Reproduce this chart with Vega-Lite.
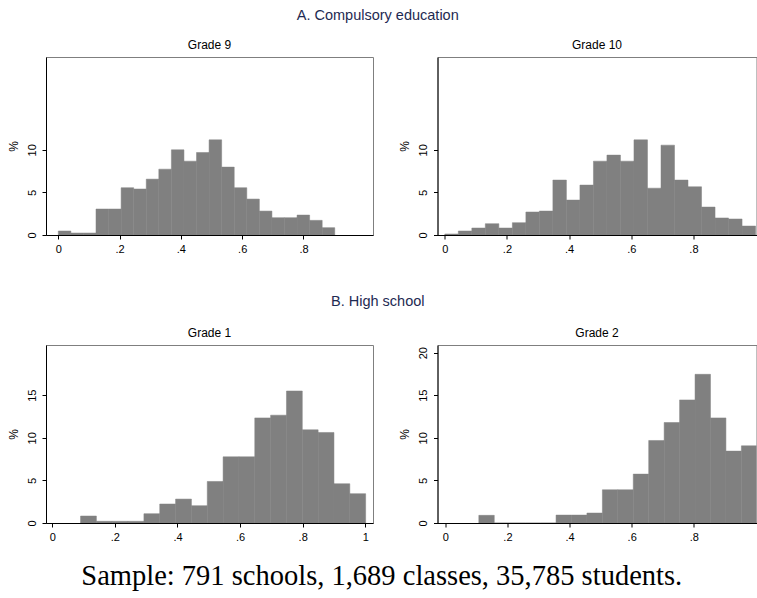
{
  "$schema": "https://vega.github.io/schema/vega-lite/v6.json",
  "padding": {"left": 6, "top": 8, "right": 0, "bottom": 4},
  "datasets": {
    "grade9": [
      {"bin_start": 0.000, "bin_end": 0.041, "percent": 0.47},
      {"bin_start": 0.041, "bin_end": 0.082, "percent": 0.23},
      {"bin_start": 0.082, "bin_end": 0.123, "percent": 0.23},
      {"bin_start": 0.123, "bin_end": 0.164, "percent": 3.05},
      {"bin_start": 0.164, "bin_end": 0.205, "percent": 3.05},
      {"bin_start": 0.205, "bin_end": 0.246, "percent": 5.55},
      {"bin_start": 0.246, "bin_end": 0.287, "percent": 5.40},
      {"bin_start": 0.287, "bin_end": 0.328, "percent": 6.56},
      {"bin_start": 0.328, "bin_end": 0.369, "percent": 7.73},
      {"bin_start": 0.369, "bin_end": 0.410, "percent": 10.00},
      {"bin_start": 0.410, "bin_end": 0.451, "percent": 8.67},
      {"bin_start": 0.451, "bin_end": 0.492, "percent": 9.69},
      {"bin_start": 0.492, "bin_end": 0.533, "percent": 11.17},
      {"bin_start": 0.533, "bin_end": 0.574, "percent": 7.97},
      {"bin_start": 0.574, "bin_end": 0.615, "percent": 5.55},
      {"bin_start": 0.615, "bin_end": 0.656, "percent": 4.22},
      {"bin_start": 0.656, "bin_end": 0.697, "percent": 2.81},
      {"bin_start": 0.697, "bin_end": 0.738, "percent": 2.03},
      {"bin_start": 0.738, "bin_end": 0.779, "percent": 2.03},
      {"bin_start": 0.779, "bin_end": 0.820, "percent": 2.34},
      {"bin_start": 0.820, "bin_end": 0.861, "percent": 1.72},
      {"bin_start": 0.861, "bin_end": 0.902, "percent": 0.86}
    ],
    "grade10": [
      {"bin_start": 0.0000, "bin_end": 0.0435, "percent": 0.12},
      {"bin_start": 0.0435, "bin_end": 0.0870, "percent": 0.47},
      {"bin_start": 0.0870, "bin_end": 0.1304, "percent": 0.82},
      {"bin_start": 0.1304, "bin_end": 0.1739, "percent": 1.33},
      {"bin_start": 0.1739, "bin_end": 0.2174, "percent": 0.82},
      {"bin_start": 0.2174, "bin_end": 0.2609, "percent": 1.45},
      {"bin_start": 0.2609, "bin_end": 0.3043, "percent": 2.70},
      {"bin_start": 0.3043, "bin_end": 0.3478, "percent": 2.81},
      {"bin_start": 0.3478, "bin_end": 0.3913, "percent": 6.45},
      {"bin_start": 0.3913, "bin_end": 0.4348, "percent": 4.10},
      {"bin_start": 0.4348, "bin_end": 0.4783, "percent": 5.86},
      {"bin_start": 0.4783, "bin_end": 0.5217, "percent": 8.67},
      {"bin_start": 0.5217, "bin_end": 0.5652, "percent": 9.38},
      {"bin_start": 0.5652, "bin_end": 0.6087, "percent": 8.67},
      {"bin_start": 0.6087, "bin_end": 0.6522, "percent": 11.17},
      {"bin_start": 0.6522, "bin_end": 0.6957, "percent": 5.50},
      {"bin_start": 0.6957, "bin_end": 0.7391, "percent": 10.55},
      {"bin_start": 0.7391, "bin_end": 0.7826, "percent": 6.45},
      {"bin_start": 0.7826, "bin_end": 0.8261, "percent": 5.66},
      {"bin_start": 0.8261, "bin_end": 0.8696, "percent": 3.28},
      {"bin_start": 0.8696, "bin_end": 0.9130, "percent": 2.00},
      {"bin_start": 0.9130, "bin_end": 0.9565, "percent": 1.88},
      {"bin_start": 0.9565, "bin_end": 1.0000, "percent": 1.05}
    ],
    "grade1": [
      {"bin_start": 0.0903, "bin_end": 0.1409, "percent": 0.82},
      {"bin_start": 0.1409, "bin_end": 0.1915, "percent": 0.20},
      {"bin_start": 0.1915, "bin_end": 0.2421, "percent": 0.20},
      {"bin_start": 0.2421, "bin_end": 0.2927, "percent": 0.20},
      {"bin_start": 0.2927, "bin_end": 0.3433, "percent": 1.09},
      {"bin_start": 0.3433, "bin_end": 0.3939, "percent": 2.23},
      {"bin_start": 0.3939, "bin_end": 0.4445, "percent": 2.81},
      {"bin_start": 0.4445, "bin_end": 0.4951, "percent": 2.03},
      {"bin_start": 0.4951, "bin_end": 0.5457, "percent": 4.88},
      {"bin_start": 0.5457, "bin_end": 0.5963, "percent": 7.77},
      {"bin_start": 0.5963, "bin_end": 0.6469, "percent": 7.77},
      {"bin_start": 0.6469, "bin_end": 0.6975, "percent": 12.34},
      {"bin_start": 0.6975, "bin_end": 0.7481, "percent": 12.66},
      {"bin_start": 0.7481, "bin_end": 0.7987, "percent": 15.50},
      {"bin_start": 0.7987, "bin_end": 0.8493, "percent": 10.94},
      {"bin_start": 0.8493, "bin_end": 0.8999, "percent": 10.63},
      {"bin_start": 0.8999, "bin_end": 0.9505, "percent": 4.61},
      {"bin_start": 0.9505, "bin_end": 1.0011, "percent": 3.44}
    ],
    "grade2": [
      {"bin_start": 0.1080, "bin_end": 0.1577, "percent": 0.90},
      {"bin_start": 0.1577, "bin_end": 0.2074, "percent": 0},
      {"bin_start": 0.2074, "bin_end": 0.2571, "percent": 0},
      {"bin_start": 0.2571, "bin_end": 0.3068, "percent": 0},
      {"bin_start": 0.3068, "bin_end": 0.3565, "percent": 0},
      {"bin_start": 0.3565, "bin_end": 0.4062, "percent": 0.93},
      {"bin_start": 0.4062, "bin_end": 0.4559, "percent": 0.93},
      {"bin_start": 0.4559, "bin_end": 0.5056, "percent": 1.17},
      {"bin_start": 0.5056, "bin_end": 0.5553, "percent": 3.90},
      {"bin_start": 0.5553, "bin_end": 0.6050, "percent": 3.90},
      {"bin_start": 0.6050, "bin_end": 0.6547, "percent": 5.74},
      {"bin_start": 0.6547, "bin_end": 0.7044, "percent": 9.69},
      {"bin_start": 0.7044, "bin_end": 0.7541, "percent": 11.80},
      {"bin_start": 0.7541, "bin_end": 0.8038, "percent": 14.45},
      {"bin_start": 0.8038, "bin_end": 0.8535, "percent": 17.46},
      {"bin_start": 0.8535, "bin_end": 0.9032, "percent": 12.34},
      {"bin_start": 0.9032, "bin_end": 0.9529, "percent": 8.44},
      {"bin_start": 0.9529, "bin_end": 1.0026, "percent": 9.06}
    ]
  },
  "title": {
    "text": "Sample: 791 schools, 1,689 classes, 35,785 students.",
    "orient": "bottom",
    "anchor": "middle",
    "font": "Liberation Serif",
    "fontSize": 28.5,
    "fontWeight": "normal",
    "color": "black",
    "offset": 19
  },
  "spacing": 39,
  "vconcat": [
    {
      "title": {"text": "A. Compulsory education", "anchor": "middle", "dx": -4, "font": "Liberation Sans", "fontSize": 14.5, "color": "#1e2a52", "offset": 15},
      "spacing": 23.5,
      "hconcat": [
        {
          "title": "Grade 9",
          "width": 327,
          "height": 178,
          "data": {"name": "grade9"},
          "mark": {"type": "rect", "color": "#808080", "stroke": "#808080", "strokeWidth": 0.5, "clip": true},
          "encoding": {
            "x": {"field": "bin_start", "type": "quantitative", "scale": {"domain": [-0.0401, 1.0268], "nice": false, "zero": false},
                  "axis": {"values": [0, 0.2, 0.4, 0.6, 0.8], "title": null, "labelExpr": "datum.value == 0 ? '0' : datum.value >= 0.99 ? '1' : '.' + round(datum.value * 10)"}},
            "x2": {"field": "bin_end"},
            "y": {"field": "percent", "type": "quantitative", "scale": {"domain": [0, 20.9], "nice": false},
                  "axis": {"values": [0, 5, 10], "title": "%"}},
            "y2": {"datum": 0}
          }
        },
        {
          "title": "Grade 10",
          "width": 319,
          "height": 178,
          "data": {"name": "grade10"},
          "mark": {"type": "rect", "color": "#808080", "stroke": "#808080", "strokeWidth": 0.5, "clip": true},
          "encoding": {
            "x": {"field": "bin_start", "type": "quantitative", "scale": {"domain": [-0.0235, 1.003], "nice": false, "zero": false},
                  "axis": {"values": [0, 0.2, 0.4, 0.6, 0.8], "title": null, "labelExpr": "datum.value == 0 ? '0' : datum.value >= 0.99 ? '1' : '.' + round(datum.value * 10)"}},
            "x2": {"field": "bin_end"},
            "y": {"field": "percent", "type": "quantitative", "scale": {"domain": [0, 20.9], "nice": false},
                  "axis": {"values": [0, 5, 10], "title": "%"}},
            "y2": {"datum": 0}
          }
        }
      ]
    },
    {
      "title": {"text": "B. High school", "anchor": "middle", "dx": -4, "font": "Liberation Sans", "fontSize": 14.5, "color": "#1e2a52", "offset": 17},
      "spacing": 23.5,
      "hconcat": [
        {
          "title": "Grade 1",
          "width": 327,
          "height": 178,
          "data": {"name": "grade1"},
          "mark": {"type": "rect", "color": "#808080", "stroke": "#808080", "strokeWidth": 0.5, "clip": true},
          "encoding": {
            "x": {"field": "bin_start", "type": "quantitative", "scale": {"domain": [-0.0201, 1.0246], "nice": false, "zero": false},
                  "axis": {"values": [0, 0.2, 0.4, 0.6, 0.8, 1], "title": null, "labelExpr": "datum.value == 0 ? '0' : datum.value >= 0.99 ? '1' : '.' + round(datum.value * 10)"}},
            "x2": {"field": "bin_end"},
            "y": {"field": "percent", "type": "quantitative", "scale": {"domain": [0, 20.9], "nice": false},
                  "axis": {"values": [0, 5, 10, 15], "title": "%"}},
            "y2": {"datum": 0}
          }
        },
        {
          "title": "Grade 2",
          "width": 319,
          "height": 178,
          "data": {"name": "grade2"},
          "mark": {"type": "rect", "color": "#808080", "stroke": "#808080", "strokeWidth": 0.5, "clip": true},
          "encoding": {
            "x": {"field": "bin_start", "type": "quantitative", "scale": {"domain": [-0.025, 1.0016], "nice": false, "zero": false},
                  "axis": {"values": [0, 0.2, 0.4, 0.6, 0.8], "title": null, "labelExpr": "datum.value == 0 ? '0' : datum.value >= 0.99 ? '1' : '.' + round(datum.value * 10)"}},
            "x2": {"field": "bin_end"},
            "y": {"field": "percent", "type": "quantitative", "scale": {"domain": [0, 20.9], "nice": false},
                  "axis": {"values": [0, 5, 10, 15, 20], "title": "%"}},
            "y2": {"datum": 0}
          }
        }
      ]
    }
  ],
  "config": {
    "view": {"stroke": "#7f7f7f", "strokeWidth": 1},
    "axis": {
      "grid": false,
      "domainColor": "black",
      "tickColor": "black",
      "tickSize": 4,
      "labelFont": "Liberation Sans",
      "labelFontSize": 11,
      "labelColor": "black",
      "labelPadding": 4,
      "titleFont": "Liberation Sans",
      "titleFontSize": 12,
      "titleFontWeight": "normal",
      "titleColor": "black"
    },
    "axisY": {"labelAngle": 270, "labelAlign": "center", "labelBaseline": "bottom", "labelPadding": 5, "titlePadding": 6},
    "title": {"font": "Liberation Sans", "fontSize": 12, "fontWeight": "normal", "color": "black", "offset": 5}
  }
}
